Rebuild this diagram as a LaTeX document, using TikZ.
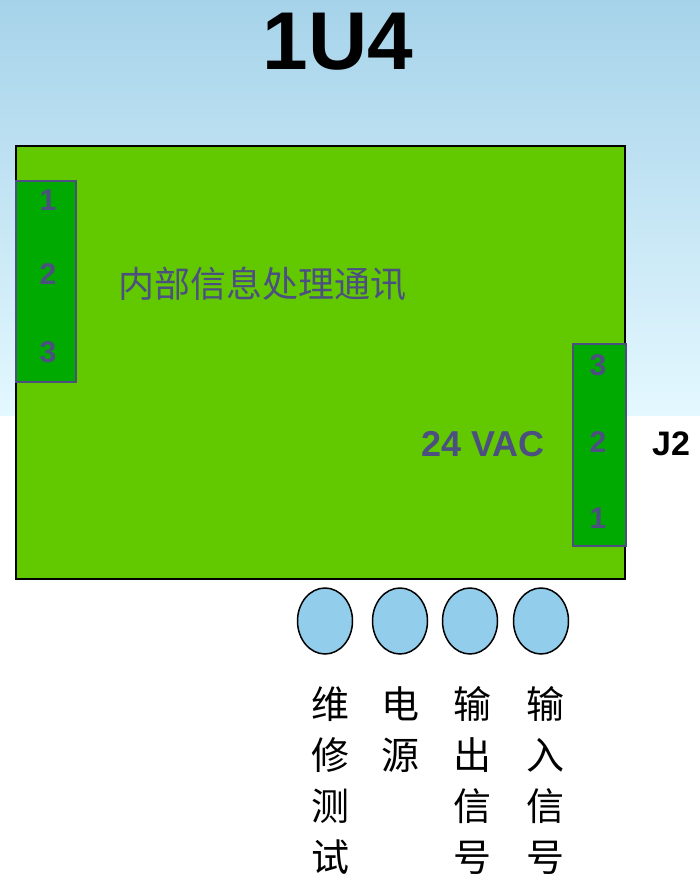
\documentclass[tikz,border=0pt]{standalone}
\usepackage{fontspec}
\setmainfont{Liberation Sans}
\newfontfamily\cjk{Noto Sans CJK SC}
\usetikzlibrary{positioning,shapes.geometric}
\definecolor{board}{HTML}{62C800}
\definecolor{pinfill}{HTML}{00AA00}
\definecolor{slate}{HTML}{4C5080}
\definecolor{led}{HTML}{92CDEB}
\definecolor{skytop}{HTML}{A6D3EA}
\definecolor{skylow}{HTML}{E4F8FF}

\begin{document}
\begin{tikzpicture}[x=1pt,y=-1pt,
  header/.style={draw=slate,line width=1.5pt,fill=pinfill},
  pin/.style={text=slate,font=\bfseries\fontsize{30}{30}\selectfont},
  lamp/.style={draw,line width=1.5pt,fill=led,ellipse,minimum width=55pt,minimum height=66pt,inner sep=0pt},
  caption/.style={anchor=north,align=center,font=\cjk\fontsize{38}{51}\selectfont},
]
  \useasboundingbox (0,0) rectangle (700,880);
  \shade[top color=skytop,bottom color=skylow] (0,0) rectangle (700,415);

  \node[font=\bfseries\fontsize{82}{82}\selectfont] (title) at (338,42) {1U4};

  % board
  \draw[fill=board,line width=2pt] (16,146) rectangle (625,579);
  \node[text=slate,font=\cjk\fontsize{36}{36}\selectfont] (info) at (262,284) {内部信息处理通讯};

  % left header
  \draw[header] (16,181) rectangle (76,382);
  \foreach \n/\y in {1/200,2/274,3/352}
    \node[pin] (L\n) at (48,\y) {\n};

  % right header
  \draw[header] (573,344) rectangle (626,546);
  \foreach \n/\y in {3/365,2/442,1/518}
    \node[pin] (R\n) at (598,\y) {\n};
  \node[text=slate,font=\bfseries\fontsize{36}{36}\selectfont] (vac) at (483,444) {24 VAC};
  \node[font=\bfseries\fontsize{34}{34}\selectfont] (J2) at (671,444) {J2};

  % indicator lamps
  \foreach \k/\x in {1/325,2/400,3/470,4/541}
    \node[lamp] (lamp\k) at (\x,621) {};

  \node[caption] (cap1) at (330,683) {维\\修\\测\\试};
  \node[caption] (cap2) at (400,683) {电\\源};
  \node[caption] (cap3) at (472,683) {输\\出\\信\\号};
  \node[caption] (cap4) at (545,683) {输\\入\\信\\号};
\end{tikzpicture}
\end{document}
